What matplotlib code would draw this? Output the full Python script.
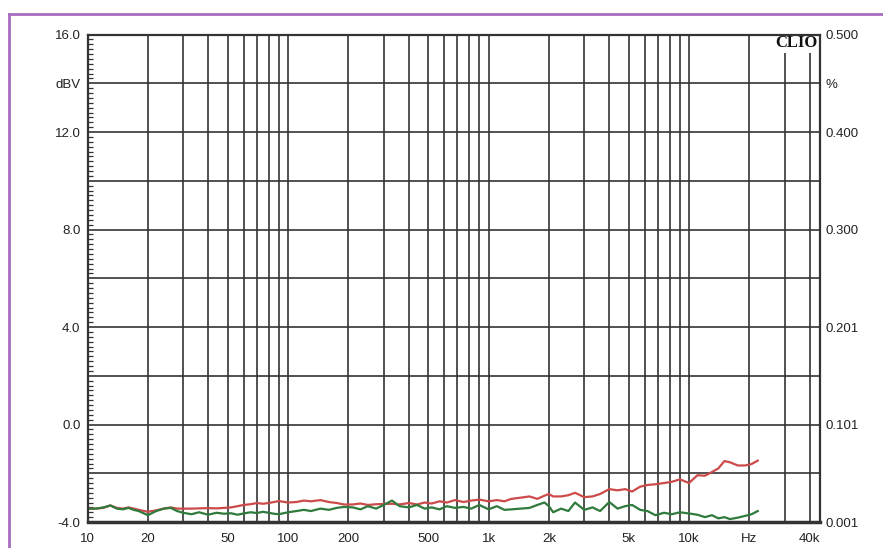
import numpy as np
import matplotlib.pyplot as plt
from matplotlib.lines import Line2D
from matplotlib.ticker import FixedLocator, MultipleLocator

plt.rcParams['font.family'] = ['Liberation Sans', 'DejaVu Sans']

# frequency points (Hz) shared by both traces
freq = [10, 11, 12, 13, 14, 15, 16, 17, 18, 20, 22, 24, 26, 28, 30, 33, 36, 40, 44, 48,
        52, 56, 60, 65, 70, 75, 80, 85, 90, 100, 110, 120, 130, 145, 160, 175, 190, 210,
        230, 250, 275, 300, 330, 360, 400, 440, 480, 520, 570, 620, 680, 750, 820, 900,
        1000, 1100, 1200, 1300, 1450, 1600, 1750, 1900, 2000, 2100, 2300, 2500, 2700,
        3000, 3300, 3600, 4000, 4400, 4800, 5200, 5700, 6200, 6800, 7500, 8200, 9000,
        10000, 11000, 12000, 13000, 14000, 15000, 16000, 17500, 19000, 20500, 22000]

red_db = [-3.45, -3.45, -3.42, -3.32, -3.42, -3.45, -3.40, -3.45, -3.50, -3.58, -3.52,
          -3.45, -3.40, -3.45, -3.45, -3.45, -3.44, -3.43, -3.44, -3.42, -3.40, -3.35,
          -3.30, -3.27, -3.22, -3.25, -3.22, -3.18, -3.14, -3.20, -3.18, -3.12, -3.15,
          -3.10, -3.18, -3.22, -3.28, -3.28, -3.24, -3.30, -3.27, -3.26, -3.25, -3.28,
          -3.22, -3.28, -3.20, -3.24, -3.15, -3.20, -3.10, -3.18, -3.12, -3.08, -3.15,
          -3.10, -3.15, -3.05, -3.00, -2.95, -3.05, -2.92, -2.85, -2.95, -2.95, -2.90,
          -2.80, -2.98, -2.95, -2.85, -2.65, -2.70, -2.65, -2.75, -2.55, -2.48, -2.45,
          -2.40, -2.35, -2.25, -2.40, -2.08, -2.10, -1.95, -1.80, -1.50, -1.55, -1.68,
          -1.68, -1.62, -1.48]

green_db = [-3.45, -3.45, -3.40, -3.32, -3.45, -3.48, -3.42, -3.50, -3.55, -3.72, -3.55,
            -3.45, -3.42, -3.55, -3.62, -3.68, -3.60, -3.70, -3.62, -3.66, -3.64, -3.70,
            -3.65, -3.60, -3.63, -3.58, -3.62, -3.66, -3.68, -3.60, -3.55, -3.50, -3.55,
            -3.45, -3.50, -3.42, -3.38, -3.40, -3.48, -3.35, -3.45, -3.30, -3.12, -3.35,
            -3.40, -3.30, -3.45, -3.40, -3.48, -3.35, -3.42, -3.38, -3.45, -3.30, -3.48,
            -3.35, -3.50, -3.48, -3.45, -3.42, -3.30, -3.20, -3.35, -3.60, -3.45, -3.55,
            -3.20, -3.50, -3.40, -3.55, -3.18, -3.45, -3.35, -3.30, -3.50, -3.55, -3.72,
            -3.62, -3.68, -3.60, -3.65, -3.70, -3.80, -3.72, -3.85, -3.80, -3.88, -3.82,
            -3.75, -3.68, -3.55]

# axis labelling
x_ticks = [10, 20, 50, 100, 200, 500, 1000, 2000, 5000, 10000, 20000, 40000]
x_labels = ['10', '20', '50', '100', '200', '500', '1k', '2k', '5k', '10k', 'Hz', '40k']
x_grid = [20, 30, 40, 50, 60, 70, 80, 90, 100, 200, 300, 400, 500, 600, 700, 800, 900,
          1000, 2000, 3000, 4000, 5000, 6000, 7000, 8000, 9000, 10000, 20000, 30000, 40000]
y_ticks = [16, 14, 12, 10, 8, 6, 4, 2, 0, -2, -4]
y_left = ['16.0', 'dBV', '12.0', '', '8.0', '', '4.0', '', '0.0', '', '-4.0']
y_right = ['0.500', '%', '0.400', '', '0.300', '', '0.201', '', '0.101', '', '0.001']

fig = plt.figure(figsize=(8.83, 5.48), dpi=100, facecolor='white')
ax = fig.add_axes([0.0991, 0.0474, 0.8296, 0.8896])

gridc = '#333333'
ax.set_xscale('log')
ax.set_xlim(10, 45000)
ax.set_ylim(-4, 16)

ax.xaxis.set_major_locator(FixedLocator(x_ticks))
ax.set_xticklabels(x_labels)
ax.xaxis.set_minor_locator(FixedLocator([]))
ax.tick_params(axis='x', which='both', length=0, pad=8, labelsize=9.5, colors='#222222')

ax.yaxis.set_major_locator(FixedLocator(y_ticks))
ax.set_yticklabels(y_left)
ax.yaxis.set_minor_locator(MultipleLocator(0.2))
ax.tick_params(axis='y', which='major', length=0, pad=5, labelsize=9.5, colors='#222222')
ax.tick_params(axis='y', which='minor', direction='in', length=3.5, width=0.9,
               color=gridc, left=True, right=True)

for f in x_grid:
    ax.axvline(f, color=gridc, lw=1.2, zorder=1)
for v in y_ticks:
    ax.axhline(v, color=gridc, lw=1.2, zorder=1)

for s in ax.spines.values():
    s.set_color('#333333')
    s.set_linewidth(1.6)
    s.set_zorder(5)
ax.spines['bottom'].set_linewidth(2.5)

ax.plot(freq, red_db, color='#cc4a4a', lw=1.6, zorder=3)
ax.plot(freq, green_db, color='#2f7a3c', lw=1.6, zorder=4)

ax2 = ax.twinx()
ax2.set_ylim(-4, 16)
ax2.yaxis.set_major_locator(FixedLocator(y_ticks))
ax2.set_yticklabels(y_right)
ax2.tick_params(axis='y', which='major', length=0, pad=4, labelsize=9.5, colors='#222222')
for s in ax2.spines.values():
    s.set_visible(False)

ax.text(0.997, 0.998, 'CLIO', transform=ax.transAxes, ha='right', va='top',
        family=['Liberation Serif', 'DejaVu Serif'], fontweight='bold', fontsize=12,
        color='#111111', zorder=4.5,
        bbox=dict(facecolor='white', edgecolor='none', pad=1.5))

# purple page frame
purple = '#a86cc0'
fx = 9 / 883
fy = 1 - 14 / 548
fig.add_artist(Line2D([fx, fx], [0, fy], transform=fig.transFigure, color=purple, lw=2))
fig.add_artist(Line2D([fx, 1], [fy, fy], transform=fig.transFigure, color=purple, lw=2))

fig.savefig('out.png', dpi=100, facecolor='white')
